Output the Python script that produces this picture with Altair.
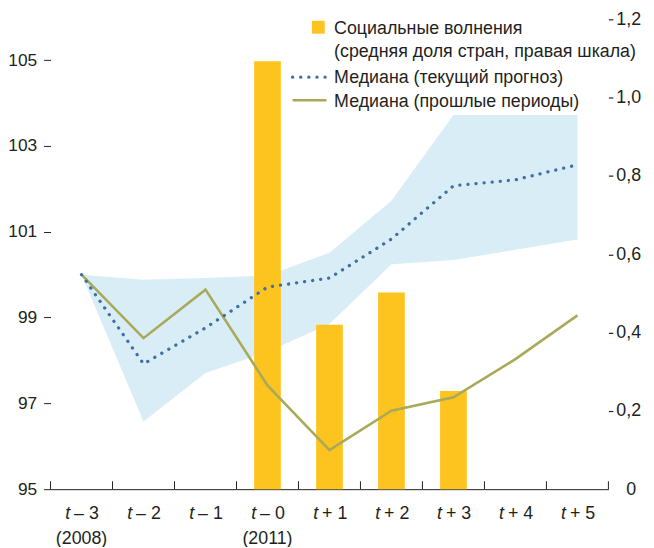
import altair as alt
import pandas as pd

# ---------------- data ----------------
cats = ["t-3", "t-2", "t-1", "t-0", "t+1", "t+2", "t+3", "t+4", "t+5"]
tick_rest = ["– 3", "– 2", "– 1", "– 0", "+ 1", "+ 2", "+ 3", "+ 4", "+ 5"]
years = ["(2008)", "", "", "(2011)", "", "", "", "", ""]

median_now = [100.0, 97.92, 98.76, 99.71, 99.92, 100.83, 102.07, 102.21, 102.56]
median_past = [100.0, 98.52, 99.65, 97.42, 95.91, 96.83, 97.14, 98.03, 99.05]
band_hi = [100.0, 99.88, 99.92, 99.98, 100.51, 101.72, 103.72, 103.72, 103.72]
band_lo = [100.0, 96.58, 97.71, 98.20, 98.85, 100.24, 100.34, 100.58, 100.82]
unrest = [None, None, None, 1.093, 0.42, 0.502, 0.251, None, None]

left_ticks = [95, 97, 99, 101, 103, 105]
right_ticks = [0, 0.2, 0.4, 0.6, 0.8, 1.0, 1.2]
legend_labels = [
    "Социальные волнения",
    "(средняя доля стран, правая шкала)",
    "Медиана (текущий прогноз)",
    "Медиана (прошлые периоды)",
]

# ---------------- style ----------------
FONT = "Liberation Sans"
INK = "#231F20"
BAR = "#FDC41F"
BAND = "#D8EDF6"
BLUE = "#3E70A6"
OLIVE = "#A9A95A"
FS = 18
W, H = 564, 475

df = pd.DataFrame({
    "cat": cats, "rest": tick_rest, "year": years,
    "now": median_now, "past": median_past,
    "hi": band_hi, "lo": band_lo, "unrest": unrest,
})
one = pd.DataFrame({"k": [0]})

xscale = alt.Scale(domain=cats, paddingInner=0, paddingOuter=0)


def X(**kw):
    return alt.X("cat:N", sort=cats, scale=xscale, **kw)


left_scale = alt.Scale(domain=[95, 105.95], nice=False, zero=False)

base = alt.Chart(df)

band = base.mark_area(color=BAND, opacity=1).encode(
    x=X(axis=alt.Axis(labels=False, ticks=False, domain=True, domainColor=INK,
                      domainWidth=1, grid=False, title=None)),
    y=alt.Y("hi:Q", scale=left_scale,
            axis=alt.Axis(orient="left", values=left_ticks, tickSize=7, labelPadding=7,
                          labelFontSize=17.5,
                          domain=False, grid=False, title=None, tickColor=INK, tickWidth=1)),
    y2="lo:Q",
)

bars = base.transform_filter("isValid(datum.unrest)").mark_bar(color=BAR, size=27).encode(
    x=X(),
    y=alt.Y("unrest:Q", scale=alt.Scale(domain=[0, 1.2], nice=False),
            axis=alt.Axis(orient="right", values=right_ticks, tickSize=4.5,
                          labelPadding={"condition": {"test": "datum.value == 0", "value": 13},
                                        "value": 3},
                          domain=False, grid=False, title=None, tickWidth=1.2,
                          tickColor={"condition": {"test": "datum.value == 0", "value": "transparent"},
                                     "value": INK},
                          labelExpr="datum.value == 0 ? '0' : replace(format(datum.value, '.1f'), '.', ',')")),
)

past = base.mark_line(color=OLIVE, strokeWidth=2.6).encode(
    x=X(), y=alt.Y("past:Q", scale=left_scale, axis=None))

now = base.mark_line(color=BLUE, strokeWidth=3.3, strokeDash=[0.1, 8.1], strokeCap="round").encode(
    x=X(), y=alt.Y("now:Q", scale=left_scale, axis=None))

ticks = base.mark_rule(color=INK, strokeWidth=1).encode(
    x=X(bandPosition=0), y=alt.value(H), y2=alt.value(H - 8))
ticks_end = base.transform_filter(alt.datum.cat == cats[-1]).mark_rule(color=INK, strokeWidth=1).encode(
    x=X(bandPosition=1), y=alt.value(H), y2=alt.value(H - 8))

lab_t = base.mark_text(text="t", font=FONT, fontSize=FS, fontStyle="italic", color=INK,
                       align="right", baseline="middle", dx=-11.5).encode(x=X(), y=alt.value(H + 25))
lab_rest = base.mark_text(font=FONT, fontSize=FS, color=INK, align="left", baseline="middle",
                          dx=-7.5).encode(x=X(), y=alt.value(H + 25), text="rest:N")
lab_year = base.mark_text(font=FONT, fontSize=FS, color=INK, align="center",
                          baseline="middle").encode(x=X(), y=alt.value(H + 50), text="year:N")

# ---------------- legend ----------------
leg = alt.Chart(one)
leg_sq = leg.mark_square(size=169, color=BAR, opacity=1).encode(x=alt.value(270.7), y=alt.value(8))
leg_dot = leg.mark_rule(color=BLUE, strokeWidth=3.3, strokeDash=[0.1, 8.1], strokeCap="round").encode(
    x=alt.value(244.7), x2=alt.value(281), y=alt.value(58.5))
leg_line = leg.mark_rule(color=OLIVE, strokeWidth=2.6).encode(
    x=alt.value(244.7), x2=alt.value(279), y=alt.value(81.8))
leg_texts = [
    leg.mark_text(font=FONT, fontSize=FS, color=INK, align="left", baseline="alphabetic").encode(
        x=alt.value(286.7), y=alt.value(yy), text=alt.value(t))
    for t, yy in zip(legend_labels, [14.8, 38.2, 64.7, 88.2])
]

chart = alt.layer(
    band, bars, past, now, ticks, ticks_end, lab_t, lab_rest, lab_year,
    leg_sq, leg_dot, leg_line, *leg_texts,
).resolve_scale(y="independent").properties(
    width=W, height=H,
    padding={"left": 43, "top": 8.5, "right": 38, "bottom": 55},
    autosize=alt.AutoSizeParams(type="none"),
).configure_view(stroke=None).configure_axis(
    labelFont=FONT, labelFontSize=FS, labelColor=INK,
)

chart.save("out.html", embed_options={"renderer": "svg", "actions": False})
